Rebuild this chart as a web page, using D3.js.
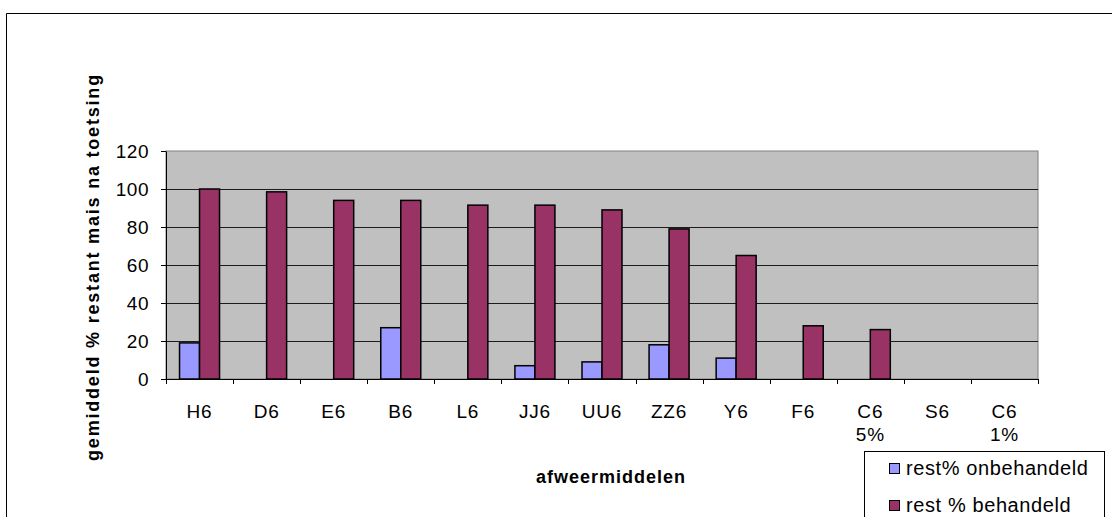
<!DOCTYPE html>
<html>
<head>
<meta charset="utf-8">
<script src="https://cdnjs.cloudflare.com/ajax/libs/d3/7.8.5/d3.min.js"></script>
<style>
  body { margin: 0; background: #fff; }
  svg { display: block; font-family: "Liberation Sans", Arial, sans-serif; }
</style>
</head>
<body>
<div id="chart"></div>
<script>
// Data
var categories = ['H6', 'D6', 'E6', 'B6', 'L6', 'JJ6', 'UU6', 'ZZ6', 'Y6', 'F6', 'C6\n5%', 'S6', 'C6\n1%'];
var onbehandeld = [19, 0, 0, 27, 0, 7, 9, 18, 11, 0, 0, 0, 0];
var behandeld = [100, 98.5, 94, 94, 91.5, 91.5, 89, 79, 65, 28, 26, 0, 0];
var seriesNames = ['rest% onbehandeld', 'rest % behandeld'];
var seriesColors = ['#9999ff', '#993366'];
var yTicks = [0, 20, 40, 60, 80, 100, 120];

var width = 1112, height = 517;
var plot = { left: 166, right: 1038, top: 151, bottom: 379 };

var svg = d3.select('#chart').append('svg')
            .attr('width', width)
            .attr('height', height);

// outer chart frame (runs off the right and bottom edges)
svg.append('path')
   .attr('d', 'M6.5,' + (height + 5) + 'V13.5H' + (width + 5))
   .style('fill', 'none')
   .style('stroke', '#000')
   .style('stroke-width', 1);

var x = d3.scaleBand()
          .domain(categories)
          .range([plot.left, plot.right])
          .padding(0);

var bw = x.bandwidth();
var xs = d3.scaleBand()
           .domain([0, 1])
           .range([bw / 2 - 20, bw / 2 + 20])
           .padding(0);

var y = d3.scaleLinear()
          .domain([0, 120])
          .range([plot.bottom, plot.top]);

// plot background
svg.append('rect')
   .attr('x', plot.left)
   .attr('y', plot.top)
   .attr('width', plot.right - plot.left)
   .attr('height', plot.bottom - plot.top)
   .style('fill', '#c0c0c0')
   .style('stroke', '#808080')
   .style('stroke-width', 1);

// gridlines
svg.append('g')
   .selectAll('line')
   .data(yTicks.filter(function(d) { return d > 0 && d < 120; }))
   .enter().append('line')
   .attr('x1', plot.left)
   .attr('x2', plot.right)
   .attr('y1', function(d) { return Math.round(y(d)) + 0.5; })
   .attr('y2', function(d) { return Math.round(y(d)) + 0.5; })
   .style('stroke', '#000')
   .style('stroke-width', 1)
   .style('opacity', 0.85);

// bars
var rows = categories.map(function(c, i) {
  return { cat: c, values: [onbehandeld[i], behandeld[i]] };
});

var groups = svg.append('g')
  .selectAll('g')
  .data(rows)
  .enter().append('g')
  .attr('transform', function(d) { return 'translate(' + x(d.cat) + ',0)'; });

groups.selectAll('rect')
  .data(function(d) { return d.values.map(function(v, k) { return { k: k, v: v }; }); })
  .enter().append('rect')
  .filter(function(d) { return d.v > 0; })
  .attr('x', function(d) { return xs(d.k); })
  .attr('y', function(d) { return y(d.v); })
  .attr('width', xs.bandwidth())
  .attr('height', function(d) { return y(0) - y(d.v); })
  .style('fill', function(d) { return seriesColors[d.k]; })
  .style('stroke', '#000')
  .style('stroke-width', 1.5);

// y axis
var yAxis = d3.axisLeft(y)
              .tickValues(yTicks)
              .tickSizeOuter(0)
              .tickSizeInner(5)
              .tickPadding(12);

var gy = svg.append('g')
   .attr('transform', 'translate(' + plot.left + ',0)')
   .call(yAxis);
gy.select('.domain').style('stroke', '#000');
gy.selectAll('.tick line').style('stroke', '#000');
gy.selectAll('.tick text')
  .style('font-size', '19px')
  .style('letter-spacing', '0.5px')
  .style('fill', '#000');

// x axis
var gx = svg.append('g')
   .attr('transform', 'translate(0,' + plot.bottom + ')');

gx.append('line')
  .attr('x1', plot.left).attr('x2', plot.right)
  .attr('y1', 0.5).attr('y2', 0.5)
  .style('stroke', '#000');

gx.selectAll('line.tick')
  .data(categories.concat(['end']))
  .enter().append('line')
  .attr('class', 'tick')
  .attr('x1', function(d, i) { return Math.round(plot.left + i * bw) + 0.5; })
  .attr('x2', function(d, i) { return Math.round(plot.left + i * bw) + 0.5; })
  .attr('y1', 0)
  .attr('y2', 5)
  .style('stroke', '#000');

var labels = gx.selectAll('text')
  .data(categories)
  .enter().append('text')
  .attr('text-anchor', 'middle')
  .style('font-size', '19px')
  .style('letter-spacing', '0.8px')
  .style('fill', '#000');

labels.selectAll('tspan')
  .data(function(d) { return d.split('\n').map(function(s) { return { s: s, c: d }; }); })
  .enter().append('tspan')
  .attr('x', function(d) { return x(d.c) + bw / 2; })
  .attr('y', function(d, i) { return 39 + i * 23; })
  .text(function(d) { return d.s; });

// axis titles
svg.append('text')
   .attr('x', 611)
   .attr('y', 483)
   .attr('text-anchor', 'middle')
   .style('font-size', '18px')
   .style('font-weight', 'bold')
   .style('letter-spacing', '1px')
   .text('afweermiddelen');

svg.append('text')
   .attr('transform', 'translate(99,267) rotate(-90)')
   .attr('text-anchor', 'middle')
   .style('font-size', '18px')
   .style('font-weight', 'bold')
   .style('letter-spacing', '1.8px')
   .text('gemiddeld % restant mais na toetsing');

// legend
var legend = svg.append('g').attr('transform', 'translate(864,451)');
legend.append('rect')
   .attr('x', 0.5)
   .attr('y', 0.5)
   .attr('width', 240)
   .attr('height', 80)
   .style('fill', '#fff')
   .style('stroke', '#000');

var items = legend.selectAll('g.item')
  .data(seriesNames)
  .enter().append('g')
  .attr('class', 'item')
  .attr('transform', function(d, i) { return 'translate(25,' + (17 + i * 37) + ')'; });

items.append('rect')
  .attr('x', 0.5)
  .attr('y', -4.5)
  .attr('width', 10)
  .attr('height', 10)
  .style('fill', function(d, i) { return seriesColors[i]; })
  .style('stroke', '#000');

items.append('text')
  .attr('x', 17)
  .attr('y', 7)
  .style('font-size', '20px')
  .style('letter-spacing', '0.6px')
  .text(function(d) { return d; });
</script>
</body>
</html>
